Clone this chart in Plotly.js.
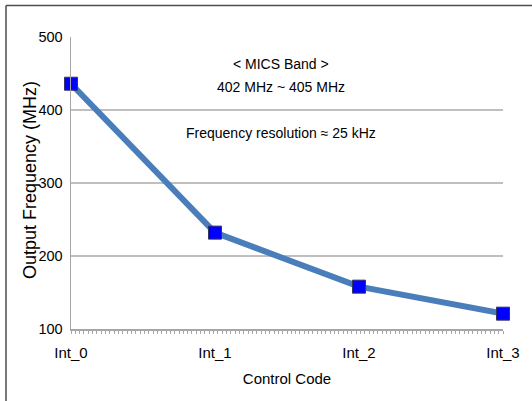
<!DOCTYPE html>
<html>
<head>
<meta charset="utf-8">
<script src="https://cdn.plot.ly/plotly-3.0.1.min.js"></script>
<style>html,body{margin:0;padding:0;background:#fff;overflow:hidden;}#chart{width:532px;height:401px;}</style>
</head>
<body>
<div id="chart"></div>
<script>
const categories = ["Int_0", "Int_1", "Int_2", "Int_3"];
const codeIndex = [0, 1, 2, 3];
const outputFreq = [436, 232, 158, 121];
const yTicks = [100, 200, 300, 400, 500];

const narrow = '"Liberation Sans Narrow", "Arial Narrow", "Liberation Sans", Arial, sans-serif';

const traces = [
  {
    x: codeIndex, y: outputFreq, type: 'scatter', mode: 'lines',
    line: {color: '#4a7ebb', width: 6}, hoverinfo: 'skip', showlegend: false
  },
  {
    x: codeIndex, y: outputFreq, type: 'scatter', mode: 'markers',
    marker: {symbol: 'square', size: 13, color: '#0000ff', line: {color: '#333366', width: 1}},
    cliponaxis: false, showlegend: false
  }
];

const frameTop = (329 - 5.5) / 292;
const frameLeft = (6 - 71) / 432;
const frameRight = (532 - 71) / 432;

const layout = {
  width: 532, height: 401,
  margin: {l: 71, r: 29, t: 37, b: 72},
  paper_bgcolor: '#ffffff', plot_bgcolor: '#ffffff',
  font: {family: narrow, size: 15, color: '#000'},
  xaxis: {
    range: [0, 3], tickvals: codeIndex, ticktext: categories,
    showgrid: false, zeroline: false, showline: true, linecolor: '#a6a6a6', linewidth: 1.5,
    ticks: '', ticklabelstandoff: 9,
    tickfont: {family: narrow, size: 15, color: '#000'},
    minor: {dtick: 0.03, ticks: 'outside', ticklen: 3, tickcolor: '#a6a6a6', showgrid: false},
    title: {text: 'Control Code', font: {family: narrow, size: 15, color: '#000'}, standoff: 14}
  },
  yaxis: {
    range: [100, 500], tickvals: yTicks,
    showgrid: true, gridcolor: '#bfbfbf', gridwidth: 1.5,
    zeroline: false, showline: true, linecolor: '#a6a6a6', linewidth: 1.5,
    ticks: '', ticklabelstandoff: 4,
    tickfont: {family: narrow, size: 14.5, color: '#000'}
  },
  annotations: [
    {xref: 'paper', yref: 'paper', x: (30 - 71) / 432, y: (329 - 180) / 292, text: 'Output Frequency (MHz)',
     textangle: -90, showarrow: false, xanchor: 'center', yanchor: 'middle',
     font: {family: '"Liberation Sans", Arial, sans-serif', size: 18, color: '#000'}},
    {xref: 'paper', yref: 'paper', x: 0.485, y: (329 - 64) / 292, text: '&lt; MICS Band &gt;', showarrow: false,
     xanchor: 'center', yanchor: 'middle', font: {family: narrow, size: 14, color: '#000'}},
    {xref: 'paper', yref: 'paper', x: 0.485, y: (329 - 87) / 292, text: '402 MHz ~ 405 MHz', showarrow: false,
     xanchor: 'center', yanchor: 'middle', font: {family: narrow, size: 14, color: '#000'}},
    {xref: 'paper', yref: 'paper', x: 0.485, y: (329 - 133) / 292, text: 'Frequency resolution ≈ 25 kHz', showarrow: false,
     xanchor: 'center', yanchor: 'middle', font: {family: narrow, size: 14, color: '#000'}}
  ],
  shapes: [
    {type: 'line', xref: 'paper', yref: 'paper', x0: frameLeft, x1: frameRight, y0: frameTop, y1: frameTop,
     line: {color: '#4d4d4d', width: 1.5}, layer: 'below'},
    {type: 'line', xref: 'paper', yref: 'paper', x0: frameLeft, x1: frameLeft, y0: frameTop, y1: -0.25,
     line: {color: '#4d4d4d', width: 1.5}, layer: 'below'}
  ]
};

Plotly.newPlot('chart', traces, layout, {displayModeBar: false, staticPlot: true});
</script>
</body>
</html>
